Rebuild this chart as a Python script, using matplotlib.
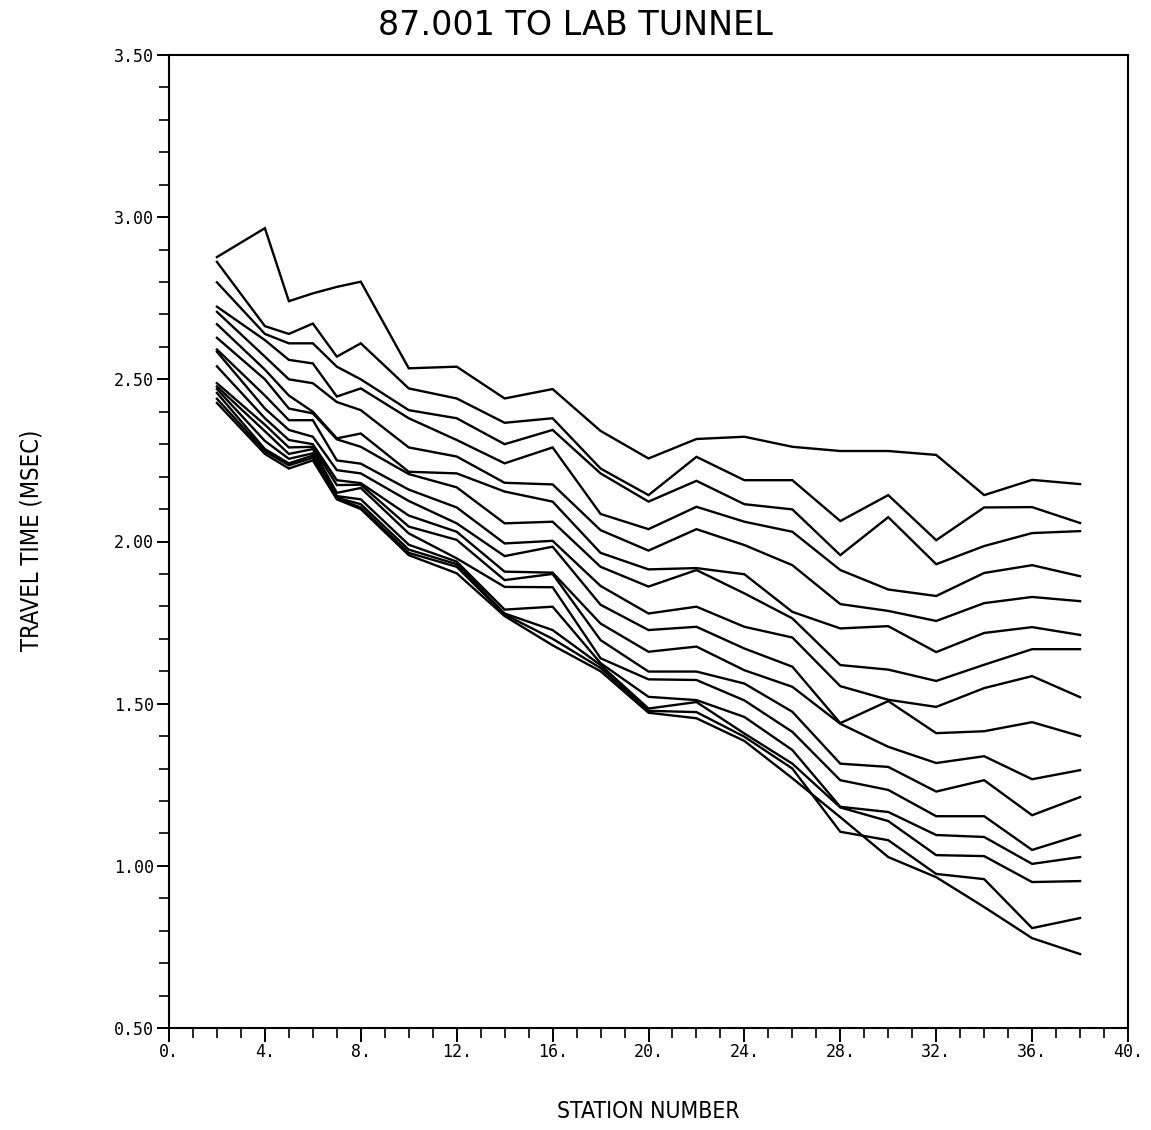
import matplotlib
matplotlib.use("Agg")
import matplotlib.pyplot as plt
from matplotlib.ticker import FixedLocator, MultipleLocator

# ---------------- data ----------------
stations = [2, 4, 5, 6, 7, 8, 10, 12, 14, 16, 18, 20, 22, 24, 26, 28, 30, 32, 34, 36, 38]

rec_01 = [2.877, 2.966, 2.741, 2.765, 2.785, 2.801, 2.534, 2.539, 2.441, 2.470, 2.341, 2.256, 2.316, 2.323, 2.292, 2.279, 2.279, 2.267, 2.143, 2.190, 2.177]
rec_02 = [2.862, 2.664, 2.640, 2.672, 2.570, 2.611, 2.472, 2.441, 2.366, 2.380, 2.225, 2.143, 2.261, 2.189, 2.189, 2.063, 2.143, 2.004, 2.105, 2.106, 2.057]
rec_03 = [2.799, 2.640, 2.611, 2.611, 2.539, 2.500, 2.405, 2.380, 2.300, 2.344, 2.210, 2.123, 2.187, 2.115, 2.099, 1.958, 2.075, 1.930, 1.986, 2.026, 2.032]
rec_04 = [2.724, 2.621, 2.560, 2.549, 2.447, 2.472, 2.380, 2.313, 2.241, 2.290, 2.085, 2.038, 2.107, 2.061, 2.030, 1.912, 1.852, 1.832, 1.903, 1.927, 1.893]
rec_05 = [2.708, 2.570, 2.500, 2.488, 2.430, 2.405, 2.290, 2.262, 2.181, 2.176, 2.035, 1.972, 2.038, 1.989, 1.927, 1.807, 1.786, 1.755, 1.810, 1.829, 1.816]
rec_06 = [2.670, 2.530, 2.450, 2.400, 2.318, 2.333, 2.215, 2.210, 2.154, 2.123, 1.965, 1.914, 1.918, 1.899, 1.783, 1.732, 1.739, 1.659, 1.718, 1.736, 1.712]
rec_07 = [2.628, 2.500, 2.410, 2.395, 2.315, 2.292, 2.208, 2.167, 2.056, 2.061, 1.922, 1.861, 1.912, 1.840, 1.763, 1.619, 1.605, 1.570, 1.620, 1.668, 1.668]
rec_08 = [2.592, 2.450, 2.374, 2.374, 2.250, 2.240, 2.160, 2.105, 1.994, 2.002, 1.863, 1.778, 1.799, 1.737, 1.704, 1.554, 1.512, 1.490, 1.548, 1.585, 1.520]
rec_09 = [2.585, 2.410, 2.344, 2.323, 2.220, 2.210, 2.125, 2.056, 1.955, 1.984, 1.805, 1.727, 1.737, 1.670, 1.614, 1.440, 1.508, 1.409, 1.415, 1.443, 1.400]
rec_10 = [2.540, 2.380, 2.313, 2.300, 2.189, 2.180, 2.080, 2.030, 1.907, 1.904, 1.747, 1.660, 1.676, 1.603, 1.552, 1.438, 1.367, 1.317, 1.338, 1.267, 1.295]
rec_11 = [2.488, 2.360, 2.290, 2.292, 2.174, 2.175, 2.046, 2.005, 1.881, 1.900, 1.696, 1.599, 1.599, 1.562, 1.475, 1.315, 1.305, 1.229, 1.264, 1.156, 1.212]
rec_12 = [2.478, 2.340, 2.270, 2.285, 2.150, 2.165, 2.025, 1.948, 1.860, 1.859, 1.640, 1.575, 1.573, 1.510, 1.413, 1.264, 1.234, 1.153, 1.153, 1.049, 1.095]
rec_13 = [2.470, 2.310, 2.255, 2.272, 2.140, 2.130, 1.990, 1.938, 1.790, 1.799, 1.625, 1.521, 1.511, 1.459, 1.357, 1.182, 1.166, 1.095, 1.089, 1.006, 1.027]
rec_14 = [2.458, 2.285, 2.241, 2.265, 2.135, 2.115, 1.975, 1.930, 1.778, 1.727, 1.619, 1.485, 1.505, 1.408, 1.315, 1.180, 1.138, 1.033, 1.030, 0.950, 0.953]
rec_15 = [2.440, 2.278, 2.235, 2.258, 2.132, 2.105, 1.965, 1.922, 1.775, 1.700, 1.610, 1.478, 1.474, 1.398, 1.300, 1.105, 1.079, 0.975, 0.959, 0.808, 0.839]
rec_16 = [2.427, 2.270, 2.225, 2.250, 2.130, 2.100, 1.958, 1.902, 1.770, 1.680, 1.600, 1.472, 1.455, 1.385, 1.270, 1.150, 1.027, 0.965, 0.873, 0.777, 0.728]

records = [rec_01, rec_02, rec_03, rec_04, rec_05, rec_06, rec_07, rec_08,
           rec_09, rec_10, rec_11, rec_12, rec_13, rec_14, rec_15, rec_16]

x_ticks = [0, 4, 8, 12, 16, 20, 24, 28, 32, 36, 40]
x_tick_labels = ["0.", "4.", "8.", "12.", "16.", "20.", "24.", "28.", "32.", "36.", "40."]
y_ticks = [0.5, 1.0, 1.5, 2.0, 2.5, 3.0, 3.5]
y_tick_labels = ["0.50", "1.00", "1.50", "2.00", "2.50", "3.00", "3.50"]

title = "87.001 TO LAB TUNNEL"
xlabel = "STATION NUMBER"
ylabel = "TRAVEL TIME (MSEC)"

# ---------------- figure ----------------
W, H = 1151, 1130
fig = plt.figure(figsize=(W / 100, H / 100), dpi=100)
fig.patch.set_facecolor("white")

left, right, top, bottom = 169, 1128, 55, 1028
ax = fig.add_axes([left / W, 1 - bottom / H, (right - left) / W, (bottom - top) / H])

for rec in records:
    ax.plot(stations, rec, color="black", lw=1.7, solid_joinstyle="miter")

ax.set_xlim(0, 40)
ax.set_ylim(0.5, 3.5)

ax.xaxis.set_major_locator(FixedLocator(x_ticks))
ax.set_xticklabels(x_tick_labels)
ax.xaxis.set_minor_locator(MultipleLocator(1))
ax.yaxis.set_major_locator(FixedLocator(y_ticks))
ax.set_yticklabels(y_tick_labels)
ax.yaxis.set_minor_locator(MultipleLocator(0.1))

for lab in ax.get_xticklabels() + ax.get_yticklabels():
    lab.set_fontfamily("DejaVu Sans Mono")
    lab.set_fontsize(12)

ax.tick_params(axis="both", which="major", direction="out", length=9, width=1.4,
               color="black", pad=2)
ax.tick_params(axis="both", which="minor", direction="out", length=7, width=1.2,
               color="black")
ax.tick_params(axis="x", which="major", length=10, pad=1)

for sp in ax.spines.values():
    sp.set_linewidth(1.5)
    sp.set_color("black")

fig.text(0.4996, 0.977, title, ha="center", va="center",
         fontsize=24, family="DejaVu Sans")
fig.text(0.563, 0.016, xlabel, ha="center", va="center",
         fontsize=16.5, family="DejaVu Sans", fontstretch="condensed")
fig.text(0.027, 0.522, ylabel, ha="center", va="center", rotation=90,
         fontsize=17, family="DejaVu Sans", fontstretch="condensed")

fig.savefig("out.png", dpi=100, facecolor="white")
